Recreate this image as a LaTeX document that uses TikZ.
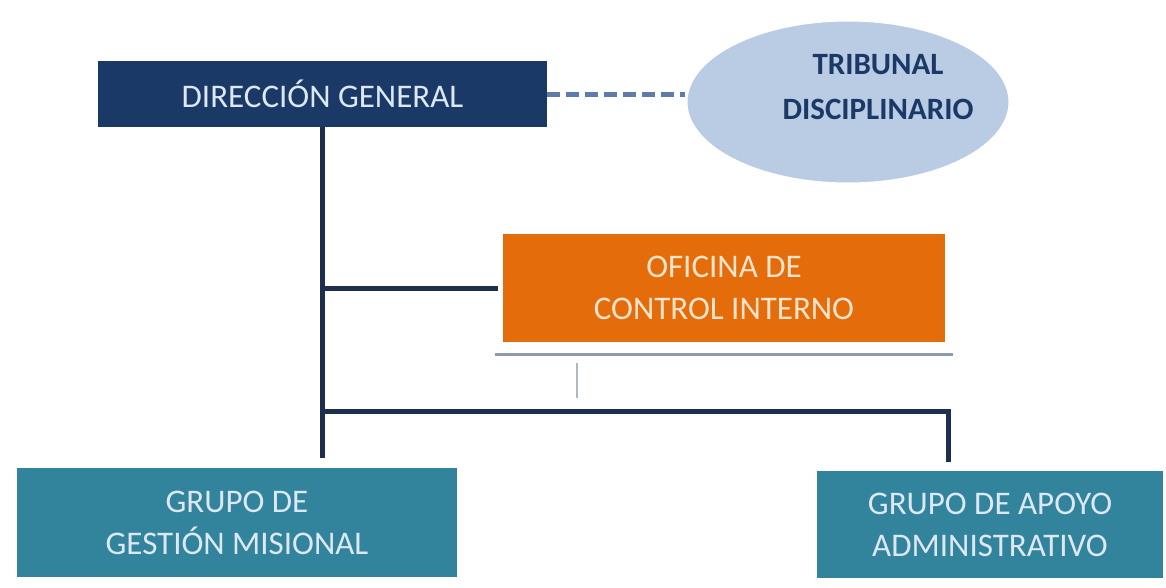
\documentclass[tikz,border=0pt]{standalone}
\usepackage{fontspec}
\setmainfont{Carlito}
\usepackage{tikz}
\usetikzlibrary{shapes.geometric}
\definecolor{navy}{HTML}{1A3966}
\definecolor{lineblue}{HTML}{1E2E4D}
\definecolor{dashblue}{HTML}{5F7CA8}
\definecolor{paleblue}{HTML}{B9CCE4}
\definecolor{orangebox}{HTML}{E46C0A}
\definecolor{tealbox}{HTML}{31849B}
\definecolor{lighttext}{HTML}{DDE8F4}
\definecolor{creamtext}{HTML}{FCE4CC}
\definecolor{shadowgray}{HTML}{8E9AA8}

\begin{document}
\begin{tikzpicture}[x=1pt, y=-1pt]
		\tikzstyle{unit}=[rectangle, inner sep=0pt, align=center, font=\fontsize{33}{42}\selectfont]
		\tikzstyle{conn}=[draw=lineblue, line width=5pt]
		\useasboundingbox (0,0) rectangle (1166,587);
		\node[unit, fill=navy, text=lighttext, minimum width=449pt, minimum height=66pt] (dirgen) at (322.5,94) {DIRECCIÓN GENERAL};
		\node[ellipse, fill=paleblue, draw=white, line width=3pt, minimum width=324pt, minimum height=164pt] (trib) at (848,102) {};
		\node[align=center, text=navy, font=\fontsize{31}{45}\selectfont\bfseries] (tribtxt) at (878,87) {TRIBUNAL\\DISCIPLINARIO};
		\node[unit, fill=orangebox, text=creamtext, minimum width=442pt, minimum height=108pt] (oci) at (724,288) {OFICINA DE\\CONTROL INTERNO};
		\node[unit, fill=tealbox, text=lighttext, minimum width=440pt, minimum height=109pt] (ggm) at (237,522.5) {GRUPO DE\\GESTIÓN MISIONAL};
		\node[unit, fill=tealbox, text=lighttext, minimum width=346pt, minimum height=107pt] (gaa) at (990,524.5) {GRUPO DE APOYO\\ADMINISTRATIVO};
		\coordinate (jn) at (322.5,411);
		%% lines
		\draw[dashblue, line width=5pt, dash pattern=on 13pt off 6pt] (dirgen.east) -- (dirgen.east -| trib.west);
		\draw[conn, shorten >=10pt] (dirgen.south) -- (dirgen.south |- ggm.north);
		\draw[conn, shorten >=5pt] (dirgen.south |- oci.west) -- (oci.west);
		\draw[conn, shorten >=9pt] (jn) -| ([xshift=-42pt]gaa.north);
		\draw[shadowgray, line width=3pt] ([shift={(-8pt,-12pt)}]oci.south west) -- ([shift={(8pt,-12pt)}]oci.south east);
		\draw[shadowgray!70, line width=1.5pt] ([shift={(74pt,-21pt)}]oci.south west) -- ++(0,35);
	\end{tikzpicture}
\end{document}
